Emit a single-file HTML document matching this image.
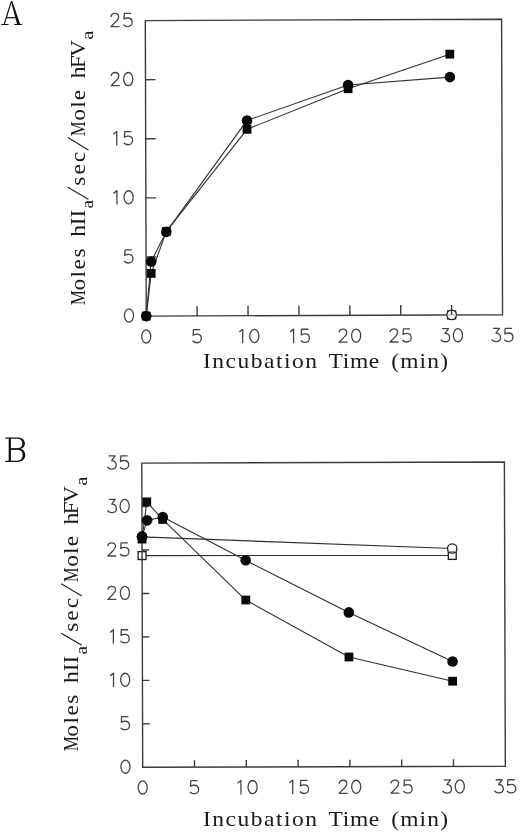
<!DOCTYPE html>
<html><head><meta charset="utf-8"><style>
html,body{margin:0;padding:0;background:#fff;width:520px;height:833px;overflow:hidden}
svg{display:block;will-change:transform}
.dg{fill:none;stroke:#454545;stroke-width:1.25;stroke-linecap:butt;stroke-linejoin:round}
.ax,.ax text{font-family:"Liberation Serif",serif;font-size:21.75px;fill:#1a1a1a}
.ax .sub{font-size:17px}
.sl{stroke:#222;stroke-width:1.15}
.pl{font-family:"Liberation Serif",serif;font-size:38px;fill:#111;stroke:#fff;stroke-width:0.7px}
</style></head><body>
<svg width="520" height="833" viewBox="0 0 520 833">
<g fill="#111">
<polygon points="10.5,1.9 11.7,1.9 4.9,24.3 3.6,24.3"/>
<polygon points="10.8,1.0 12.3,1.0 20.2,24.3 17.1,24.3"/>
<rect x="6.4" y="17.1" width="9.2" height="1.2"/>
<path d="M1.1,24.9 L1.6,24.0 H8.3 L8.8,24.9 Z"/>
<path d="M14.0,24.9 L14.5,24.0 H21.8 L22.4,24.9 Z"/>
</g>
<g fill="#111" fill-rule="evenodd">
<rect x="8.7" y="437.6" width="2.1" height="24.3"/>
<path d="M5.2,437.6 H9 V438.8 H5.6 Z"/>
<path d="M5.2,461.9 H9 V460.7 H5.6 Z"/>
<path d="M9.5,437.6 H17 C22.5,437.6 24.9,440.3 24.9,443.5 C24.9,446.9 22.2,449.5 17,449.5 H9.5 Z M10.7,438.8 H16.8 C20.7,438.8 22.3,440.9 22.3,443.5 C22.3,446.2 20.4,448.3 16.8,448.3 H10.7 Z"/>
<path d="M9.5,448.5 H17.5 C22.8,448.5 25.3,451.3 25.3,455.1 C25.3,459 22.5,461.9 17.5,461.9 H9.5 Z M10.7,449.7 H17.2 C21,449.7 22.6,452 22.6,455.1 C22.6,458.4 20.8,460.7 17.2,460.7 H10.7 Z"/>
</g>
<g class="dg" transform="translate(141.00 329.10) scale(1 1.060)"><g transform="translate(0.00 0) scale(1.030 1)"><ellipse cx="5.1" cy="6.9" rx="4.42" ry="6.2"/></g></g>
<g class="dg" transform="translate(191.90 328.90) scale(1 1.060)"><g transform="translate(0.00 0) scale(1.030 1)"><path d="M8.1,0.7 L1.5,0.7 L1.2,6.0 C2.2,5.3 3.5,5.0 4.9,5.0 C7.4,5.0 9.1,6.8 9.1,9.1 C9.1,11.4 7.3,13.1 4.9,13.1 C3.0,13.1 1.5,12.3 0.6,11.2"/></g></g>
<g class="dg" transform="translate(236.50 328.70) scale(1 1.060)"><g transform="translate(0.00 0) scale(1.030 1)"><path d="M2.7,3.2 L6.0,0.6 L6.0,13.8"/></g><g transform="translate(12.60 0) scale(1.030 1)"><ellipse cx="5.1" cy="6.9" rx="4.42" ry="6.2"/></g></g>
<g class="dg" transform="translate(287.40 328.50) scale(1 1.060)"><g transform="translate(0.00 0) scale(1.030 1)"><path d="M2.7,3.2 L6.0,0.6 L6.0,13.8"/></g><g transform="translate(12.60 0) scale(1.030 1)"><path d="M8.1,0.7 L1.5,0.7 L1.2,6.0 C2.2,5.3 3.5,5.0 4.9,5.0 C7.4,5.0 9.1,6.8 9.1,9.1 C9.1,11.4 7.3,13.1 4.9,13.1 C3.0,13.1 1.5,12.3 0.6,11.2"/></g></g>
<g class="dg" transform="translate(338.30 328.30) scale(1 1.060)"><g transform="translate(0.00 0) scale(1.030 1)"><path d="M0.8,4.0 C0.8,1.9 2.5,0.7 4.5,0.7 C6.6,0.7 8.2,2.1 8.2,4.0 C8.2,5.4 7.4,6.5 6.4,7.6 L0.8,13.1 L9.0,13.1"/></g><g transform="translate(12.60 0) scale(1.030 1)"><ellipse cx="5.1" cy="6.9" rx="4.42" ry="6.2"/></g></g>
<g class="dg" transform="translate(389.20 328.10) scale(1 1.060)"><g transform="translate(0.00 0) scale(1.030 1)"><path d="M0.8,4.0 C0.8,1.9 2.5,0.7 4.5,0.7 C6.6,0.7 8.2,2.1 8.2,4.0 C8.2,5.4 7.4,6.5 6.4,7.6 L0.8,13.1 L9.0,13.1"/></g><g transform="translate(12.60 0) scale(1.030 1)"><path d="M8.1,0.7 L1.5,0.7 L1.2,6.0 C2.2,5.3 3.5,5.0 4.9,5.0 C7.4,5.0 9.1,6.8 9.1,9.1 C9.1,11.4 7.3,13.1 4.9,13.1 C3.0,13.1 1.5,12.3 0.6,11.2"/></g></g>
<g class="dg" transform="translate(440.10 327.90) scale(1 1.060)"><g transform="translate(0.00 0) scale(1.030 1)"><path d="M1.9,0.7 L8.2,0.7 L4.8,5.2 C7.6,5.1 9.3,6.9 9.3,9.2 C9.3,11.5 7.5,13.1 5.0,13.1 C3.0,13.1 1.5,12.3 0.6,11.0"/></g><g transform="translate(12.60 0) scale(1.030 1)"><ellipse cx="5.1" cy="6.9" rx="4.42" ry="6.2"/></g></g>
<g class="dg" transform="translate(491.00 327.70) scale(1 1.060)"><g transform="translate(0.00 0) scale(1.030 1)"><path d="M1.9,0.7 L8.2,0.7 L4.8,5.2 C7.6,5.1 9.3,6.9 9.3,9.2 C9.3,11.5 7.5,13.1 5.0,13.1 C3.0,13.1 1.5,12.3 0.6,11.0"/></g><g transform="translate(12.60 0) scale(1.030 1)"><path d="M8.1,0.7 L1.5,0.7 L1.2,6.0 C2.2,5.3 3.5,5.0 4.9,5.0 C7.4,5.0 9.1,6.8 9.1,9.1 C9.1,11.4 7.3,13.1 4.9,13.1 C3.0,13.1 1.5,12.3 0.6,11.2"/></g></g>
<g class="dg" transform="translate(123.74 308.19) scale(1 1.060)"><g transform="translate(0.00 0) scale(1.030 1)"><ellipse cx="5.1" cy="6.9" rx="4.42" ry="6.2"/></g></g>
<g class="dg" transform="translate(123.55 249.09) scale(1 1.060)"><g transform="translate(0.00 0) scale(1.030 1)"><path d="M8.1,0.7 L1.5,0.7 L1.2,6.0 C2.2,5.3 3.5,5.0 4.9,5.0 C7.4,5.0 9.1,6.8 9.1,9.1 C9.1,11.4 7.3,13.1 4.9,13.1 C3.0,13.1 1.5,12.3 0.6,11.2"/></g></g>
<g class="dg" transform="translate(110.76 189.99) scale(1 1.060)"><g transform="translate(0.00 0) scale(1.030 1)"><path d="M2.7,3.2 L6.0,0.6 L6.0,13.8"/></g><g transform="translate(12.60 0) scale(1.030 1)"><ellipse cx="5.1" cy="6.9" rx="4.42" ry="6.2"/></g></g>
<g class="dg" transform="translate(110.57 130.89) scale(1 1.060)"><g transform="translate(0.00 0) scale(1.030 1)"><path d="M2.7,3.2 L6.0,0.6 L6.0,13.8"/></g><g transform="translate(12.60 0) scale(1.030 1)"><path d="M8.1,0.7 L1.5,0.7 L1.2,6.0 C2.2,5.3 3.5,5.0 4.9,5.0 C7.4,5.0 9.1,6.8 9.1,9.1 C9.1,11.4 7.3,13.1 4.9,13.1 C3.0,13.1 1.5,12.3 0.6,11.2"/></g></g>
<g class="dg" transform="translate(110.38 71.79) scale(1 1.060)"><g transform="translate(0.00 0) scale(1.030 1)"><path d="M0.8,4.0 C0.8,1.9 2.5,0.7 4.5,0.7 C6.6,0.7 8.2,2.1 8.2,4.0 C8.2,5.4 7.4,6.5 6.4,7.6 L0.8,13.1 L9.0,13.1"/></g><g transform="translate(12.60 0) scale(1.030 1)"><ellipse cx="5.1" cy="6.9" rx="4.42" ry="6.2"/></g></g>
<g class="dg" transform="translate(110.19 12.69) scale(1 1.060)"><g transform="translate(0.00 0) scale(1.030 1)"><path d="M0.8,4.0 C0.8,1.9 2.5,0.7 4.5,0.7 C6.6,0.7 8.2,2.1 8.2,4.0 C8.2,5.4 7.4,6.5 6.4,7.6 L0.8,13.1 L9.0,13.1"/></g><g transform="translate(12.60 0) scale(1.030 1)"><path d="M8.1,0.7 L1.5,0.7 L1.2,6.0 C2.2,5.3 3.5,5.0 4.9,5.0 C7.4,5.0 9.1,6.8 9.1,9.1 C9.1,11.4 7.3,13.1 4.9,13.1 C3.0,13.1 1.5,12.3 0.6,11.2"/></g></g>
<polygon points="146.25,316.10 502.55,314.70 501.60,19.20 145.30,20.60" fill="none" stroke="#3c3c3c" stroke-width="1.40"/>
<line x1="197.15" y1="315.90" x2="197.12" y2="305.90" stroke="#3c3c3c" stroke-width="1.40"/>
<line x1="248.05" y1="315.70" x2="248.02" y2="305.70" stroke="#3c3c3c" stroke-width="1.40"/>
<line x1="298.95" y1="315.50" x2="298.92" y2="305.50" stroke="#3c3c3c" stroke-width="1.40"/>
<line x1="349.85" y1="315.30" x2="349.82" y2="305.30" stroke="#3c3c3c" stroke-width="1.40"/>
<line x1="400.75" y1="315.10" x2="400.72" y2="305.10" stroke="#3c3c3c" stroke-width="1.40"/>
<line x1="451.65" y1="314.90" x2="451.62" y2="304.90" stroke="#3c3c3c" stroke-width="1.40"/>
<line x1="146.06" y1="257.00" x2="156.06" y2="256.96" stroke="#3c3c3c" stroke-width="1.40"/>
<line x1="145.87" y1="197.90" x2="155.87" y2="197.86" stroke="#3c3c3c" stroke-width="1.40"/>
<line x1="145.68" y1="138.80" x2="155.68" y2="138.76" stroke="#3c3c3c" stroke-width="1.40"/>
<line x1="145.49" y1="79.70" x2="155.49" y2="79.66" stroke="#3c3c3c" stroke-width="1.40"/>
<polyline points="146.25,316.10 151.20,273.41 166.34,231.39 247.04,129.30 348.10,88.71 449.79,54.15" fill="none" stroke="#303030" stroke-width="1.10" stroke-linejoin="round"/>
<polyline points="146.25,316.10 151.16,261.47 166.34,231.86 247.02,120.44 348.09,84.93 449.87,77.09" fill="none" stroke="#303030" stroke-width="1.10" stroke-linejoin="round"/>
<polyline points="451.65,314.90" fill="none" stroke="#303030" stroke-width="1.10" stroke-linejoin="round"/>
<polyline points="451.65,314.90" fill="none" stroke="#303030" stroke-width="1.10" stroke-linejoin="round"/>
<rect x="141.85" y="311.70" width="8.80" height="8.80" fill="#0a0a0a"/>
<rect x="146.80" y="269.01" width="8.80" height="8.80" fill="#0a0a0a"/>
<rect x="161.94" y="226.99" width="8.80" height="8.80" fill="#0a0a0a"/>
<rect x="242.64" y="124.90" width="8.80" height="8.80" fill="#0a0a0a"/>
<rect x="343.70" y="84.31" width="8.80" height="8.80" fill="#0a0a0a"/>
<rect x="445.39" y="49.75" width="8.80" height="8.80" fill="#0a0a0a"/>
<circle cx="146.25" cy="316.10" r="5.30" fill="#0a0a0a"/>
<circle cx="151.16" cy="261.47" r="5.30" fill="#0a0a0a"/>
<circle cx="166.34" cy="231.86" r="5.30" fill="#0a0a0a"/>
<circle cx="247.02" cy="120.44" r="5.30" fill="#0a0a0a"/>
<circle cx="348.09" cy="84.93" r="5.30" fill="#0a0a0a"/>
<circle cx="449.87" cy="77.09" r="5.30" fill="#0a0a0a"/>
<rect x="447.70" y="310.95" width="7.90" height="7.90" fill="#fff" stroke="#1a1a1a" stroke-width="1.3"/>
<circle cx="451.65" cy="314.90" r="4.70" fill="#fff" stroke="#1a1a1a" stroke-width="1.3"/>
<line x1="446.9" y1="314.95" x2="456.4" y2="314.95" stroke="#bbb" stroke-width="1"/><line x1="451.6" y1="309.6" x2="451.6" y2="314.9" stroke="#3c3c3c" stroke-width="1.4"/>
<g class="ax">
<text transform="translate(84.90 304.80) rotate(-90) translate(-0.474 0) scale(0.7901 1)" style="letter-spacing:0.000px">M</text>
<text transform="translate(84.90 289.70) rotate(-90) translate(-0.864 0) scale(1.0800 1)" style="letter-spacing:1.336px">oles</text>
<text transform="translate(84.90 236.60) rotate(-90) translate(-0.216 0) scale(1.0800 1)" style="letter-spacing:-0.117px">hII</text>
<text transform="translate(93.40 207.80) rotate(-90) translate(-0.681 0) scale(1.1343 1)" class="sub" style="letter-spacing:0.000px">a</text>
<text transform="translate(84.90 184.70) rotate(-90) translate(-0.972 0) scale(1.0800 1)" style="letter-spacing:1.807px">sec</text>
<text transform="translate(84.90 135.70) rotate(-90) translate(-0.464 0) scale(0.7735 1)" style="letter-spacing:0.000px">M</text>
<text transform="translate(84.90 119.80) rotate(-90) translate(-0.864 0) scale(1.0800 1)" style="letter-spacing:1.019px">ole</text>
<text transform="translate(84.90 78.10) rotate(-90) translate(-0.216 0) scale(1.0800 1)" style="letter-spacing:-1.600px">hFV</text>
<text transform="translate(93.40 38.90) rotate(-90) translate(-0.725 0) scale(1.2090 1)" class="sub" style="letter-spacing:0.000px">a</text>
<line x1="88.40" y1="199.20" x2="67.80" y2="187.20" class="sl"/>
<line x1="88.40" y1="150.00" x2="67.80" y2="137.60" class="sl"/>
<text transform="translate(202.936 367.70) scale(1.0800 1)" style="letter-spacing:1.414px">Incubation</text>
<text transform="translate(328.468 367.70) scale(1.0800 1)" style="letter-spacing:0.642px">Time</text>
<text transform="translate(391.220 367.70) scale(1.0800 1)" style="letter-spacing:1.062px">(min)</text>
</g>
<g class="dg" transform="translate(137.45 780.10) scale(1 1.060)"><g transform="translate(0.00 0) scale(1.030 1)"><ellipse cx="5.1" cy="6.9" rx="4.42" ry="6.2"/></g></g>
<g class="dg" transform="translate(189.25 779.94) scale(1 1.060)"><g transform="translate(0.00 0) scale(1.030 1)"><path d="M8.1,0.7 L1.5,0.7 L1.2,6.0 C2.2,5.3 3.5,5.0 4.9,5.0 C7.4,5.0 9.1,6.8 9.1,9.1 C9.1,11.4 7.3,13.1 4.9,13.1 C3.0,13.1 1.5,12.3 0.6,11.2"/></g></g>
<g class="dg" transform="translate(234.75 779.79) scale(1 1.060)"><g transform="translate(0.00 0) scale(1.030 1)"><path d="M2.7,3.2 L6.0,0.6 L6.0,13.8"/></g><g transform="translate(12.60 0) scale(1.030 1)"><ellipse cx="5.1" cy="6.9" rx="4.42" ry="6.2"/></g></g>
<g class="dg" transform="translate(286.55 779.63) scale(1 1.060)"><g transform="translate(0.00 0) scale(1.030 1)"><path d="M2.7,3.2 L6.0,0.6 L6.0,13.8"/></g><g transform="translate(12.60 0) scale(1.030 1)"><path d="M8.1,0.7 L1.5,0.7 L1.2,6.0 C2.2,5.3 3.5,5.0 4.9,5.0 C7.4,5.0 9.1,6.8 9.1,9.1 C9.1,11.4 7.3,13.1 4.9,13.1 C3.0,13.1 1.5,12.3 0.6,11.2"/></g></g>
<g class="dg" transform="translate(338.35 779.48) scale(1 1.060)"><g transform="translate(0.00 0) scale(1.030 1)"><path d="M0.8,4.0 C0.8,1.9 2.5,0.7 4.5,0.7 C6.6,0.7 8.2,2.1 8.2,4.0 C8.2,5.4 7.4,6.5 6.4,7.6 L0.8,13.1 L9.0,13.1"/></g><g transform="translate(12.60 0) scale(1.030 1)"><ellipse cx="5.1" cy="6.9" rx="4.42" ry="6.2"/></g></g>
<g class="dg" transform="translate(390.15 779.32) scale(1 1.060)"><g transform="translate(0.00 0) scale(1.030 1)"><path d="M0.8,4.0 C0.8,1.9 2.5,0.7 4.5,0.7 C6.6,0.7 8.2,2.1 8.2,4.0 C8.2,5.4 7.4,6.5 6.4,7.6 L0.8,13.1 L9.0,13.1"/></g><g transform="translate(12.60 0) scale(1.030 1)"><path d="M8.1,0.7 L1.5,0.7 L1.2,6.0 C2.2,5.3 3.5,5.0 4.9,5.0 C7.4,5.0 9.1,6.8 9.1,9.1 C9.1,11.4 7.3,13.1 4.9,13.1 C3.0,13.1 1.5,12.3 0.6,11.2"/></g></g>
<g class="dg" transform="translate(441.95 779.17) scale(1 1.060)"><g transform="translate(0.00 0) scale(1.030 1)"><path d="M1.9,0.7 L8.2,0.7 L4.8,5.2 C7.6,5.1 9.3,6.9 9.3,9.2 C9.3,11.5 7.5,13.1 5.0,13.1 C3.0,13.1 1.5,12.3 0.6,11.0"/></g><g transform="translate(12.60 0) scale(1.030 1)"><ellipse cx="5.1" cy="6.9" rx="4.42" ry="6.2"/></g></g>
<g class="dg" transform="translate(493.75 779.01) scale(1 1.060)"><g transform="translate(0.00 0) scale(1.030 1)"><path d="M1.9,0.7 L8.2,0.7 L4.8,5.2 C7.6,5.1 9.3,6.9 9.3,9.2 C9.3,11.5 7.5,13.1 5.0,13.1 C3.0,13.1 1.5,12.3 0.6,11.0"/></g><g transform="translate(12.60 0) scale(1.030 1)"><path d="M8.1,0.7 L1.5,0.7 L1.2,6.0 C2.2,5.3 3.5,5.0 4.9,5.0 C7.4,5.0 9.1,6.8 9.1,9.1 C9.1,11.4 7.3,13.1 4.9,13.1 C3.0,13.1 1.5,12.3 0.6,11.2"/></g></g>
<g class="dg" transform="translate(120.19 759.39) scale(1 1.060)"><g transform="translate(0.00 0) scale(1.030 1)"><ellipse cx="5.1" cy="6.9" rx="4.42" ry="6.2"/></g></g>
<g class="dg" transform="translate(120.06 715.93) scale(1 1.060)"><g transform="translate(0.00 0) scale(1.030 1)"><path d="M8.1,0.7 L1.5,0.7 L1.2,6.0 C2.2,5.3 3.5,5.0 4.9,5.0 C7.4,5.0 9.1,6.8 9.1,9.1 C9.1,11.4 7.3,13.1 4.9,13.1 C3.0,13.1 1.5,12.3 0.6,11.2"/></g></g>
<g class="dg" transform="translate(107.33 672.48) scale(1 1.060)"><g transform="translate(0.00 0) scale(1.030 1)"><path d="M2.7,3.2 L6.0,0.6 L6.0,13.8"/></g><g transform="translate(12.60 0) scale(1.030 1)"><ellipse cx="5.1" cy="6.9" rx="4.42" ry="6.2"/></g></g>
<g class="dg" transform="translate(107.20 629.02) scale(1 1.060)"><g transform="translate(0.00 0) scale(1.030 1)"><path d="M2.7,3.2 L6.0,0.6 L6.0,13.8"/></g><g transform="translate(12.60 0) scale(1.030 1)"><path d="M8.1,0.7 L1.5,0.7 L1.2,6.0 C2.2,5.3 3.5,5.0 4.9,5.0 C7.4,5.0 9.1,6.8 9.1,9.1 C9.1,11.4 7.3,13.1 4.9,13.1 C3.0,13.1 1.5,12.3 0.6,11.2"/></g></g>
<g class="dg" transform="translate(107.07 585.57) scale(1 1.060)"><g transform="translate(0.00 0) scale(1.030 1)"><path d="M0.8,4.0 C0.8,1.9 2.5,0.7 4.5,0.7 C6.6,0.7 8.2,2.1 8.2,4.0 C8.2,5.4 7.4,6.5 6.4,7.6 L0.8,13.1 L9.0,13.1"/></g><g transform="translate(12.60 0) scale(1.030 1)"><ellipse cx="5.1" cy="6.9" rx="4.42" ry="6.2"/></g></g>
<g class="dg" transform="translate(106.94 542.11) scale(1 1.060)"><g transform="translate(0.00 0) scale(1.030 1)"><path d="M0.8,4.0 C0.8,1.9 2.5,0.7 4.5,0.7 C6.6,0.7 8.2,2.1 8.2,4.0 C8.2,5.4 7.4,6.5 6.4,7.6 L0.8,13.1 L9.0,13.1"/></g><g transform="translate(12.60 0) scale(1.030 1)"><path d="M8.1,0.7 L1.5,0.7 L1.2,6.0 C2.2,5.3 3.5,5.0 4.9,5.0 C7.4,5.0 9.1,6.8 9.1,9.1 C9.1,11.4 7.3,13.1 4.9,13.1 C3.0,13.1 1.5,12.3 0.6,11.2"/></g></g>
<g class="dg" transform="translate(106.81 498.66) scale(1 1.060)"><g transform="translate(0.00 0) scale(1.030 1)"><path d="M1.9,0.7 L8.2,0.7 L4.8,5.2 C7.6,5.1 9.3,6.9 9.3,9.2 C9.3,11.5 7.5,13.1 5.0,13.1 C3.0,13.1 1.5,12.3 0.6,11.0"/></g><g transform="translate(12.60 0) scale(1.030 1)"><ellipse cx="5.1" cy="6.9" rx="4.42" ry="6.2"/></g></g>
<g class="dg" transform="translate(106.68 455.20) scale(1 1.060)"><g transform="translate(0.00 0) scale(1.030 1)"><path d="M1.9,0.7 L8.2,0.7 L4.8,5.2 C7.6,5.1 9.3,6.9 9.3,9.2 C9.3,11.5 7.5,13.1 5.0,13.1 C3.0,13.1 1.5,12.3 0.6,11.0"/></g><g transform="translate(12.60 0) scale(1.030 1)"><path d="M8.1,0.7 L1.5,0.7 L1.2,6.0 C2.2,5.3 3.5,5.0 4.9,5.0 C7.4,5.0 9.1,6.8 9.1,9.1 C9.1,11.4 7.3,13.1 4.9,13.1 C3.0,13.1 1.5,12.3 0.6,11.2"/></g></g>
<polygon points="142.70,767.30 505.30,766.21 504.39,462.03 141.79,463.11" fill="none" stroke="#3c3c3c" stroke-width="1.40"/>
<line x1="194.50" y1="767.14" x2="194.48" y2="760.14" stroke="#3c3c3c" stroke-width="1.40"/>
<line x1="246.30" y1="766.99" x2="246.28" y2="759.99" stroke="#3c3c3c" stroke-width="1.40"/>
<line x1="298.10" y1="766.83" x2="298.08" y2="759.83" stroke="#3c3c3c" stroke-width="1.40"/>
<line x1="349.90" y1="766.68" x2="349.88" y2="759.68" stroke="#3c3c3c" stroke-width="1.40"/>
<line x1="401.70" y1="766.52" x2="401.68" y2="759.52" stroke="#3c3c3c" stroke-width="1.40"/>
<line x1="453.50" y1="766.37" x2="453.48" y2="759.37" stroke="#3c3c3c" stroke-width="1.40"/>
<line x1="142.57" y1="723.84" x2="149.57" y2="723.82" stroke="#3c3c3c" stroke-width="1.40"/>
<line x1="142.44" y1="680.39" x2="149.44" y2="680.37" stroke="#3c3c3c" stroke-width="1.40"/>
<line x1="142.31" y1="636.93" x2="149.31" y2="636.91" stroke="#3c3c3c" stroke-width="1.40"/>
<line x1="142.18" y1="593.48" x2="149.18" y2="593.46" stroke="#3c3c3c" stroke-width="1.40"/>
<line x1="142.05" y1="550.02" x2="149.05" y2="550.00" stroke="#3c3c3c" stroke-width="1.40"/>
<line x1="141.92" y1="506.57" x2="148.92" y2="506.55" stroke="#3c3c3c" stroke-width="1.40"/>
<polyline points="142.07,555.59 452.25,555.44" fill="none" stroke="#303030" stroke-width="1.10" stroke-linejoin="round"/>
<polyline points="142.01,536.90 452.23,548.49" fill="none" stroke="#303030" stroke-width="1.10" stroke-linejoin="round"/>
<polyline points="142.02,539.07 146.78,501.86 162.68,519.46 245.80,600.04 348.95,657.00 452.62,681.20" fill="none" stroke="#303030" stroke-width="1.10" stroke-linejoin="round"/>
<polyline points="142.01,536.38 147.14,520.37 162.77,516.94 245.68,560.32 348.82,612.42 452.56,661.47" fill="none" stroke="#303030" stroke-width="1.10" stroke-linejoin="round"/>
<rect x="138.12" y="551.64" width="7.90" height="7.90" fill="#fff" stroke="#1a1a1a" stroke-width="1.3"/>
<rect x="448.30" y="551.49" width="7.90" height="7.90" fill="#fff" stroke="#1a1a1a" stroke-width="1.3"/>
<circle cx="142.01" cy="536.90" r="4.70" fill="#fff" stroke="#1a1a1a" stroke-width="1.3"/>
<circle cx="452.23" cy="548.49" r="4.70" fill="#fff" stroke="#1a1a1a" stroke-width="1.3"/>
<rect x="137.62" y="534.67" width="8.80" height="8.80" fill="#0a0a0a"/>
<rect x="142.38" y="497.46" width="8.80" height="8.80" fill="#0a0a0a"/>
<rect x="158.28" y="515.06" width="8.80" height="8.80" fill="#0a0a0a"/>
<rect x="241.40" y="595.64" width="8.80" height="8.80" fill="#0a0a0a"/>
<rect x="344.55" y="652.60" width="8.80" height="8.80" fill="#0a0a0a"/>
<rect x="448.22" y="676.80" width="8.80" height="8.80" fill="#0a0a0a"/>
<circle cx="142.01" cy="536.38" r="5.30" fill="#0a0a0a"/>
<circle cx="147.14" cy="520.37" r="5.30" fill="#0a0a0a"/>
<circle cx="162.77" cy="516.94" r="5.30" fill="#0a0a0a"/>
<circle cx="245.68" cy="560.32" r="5.30" fill="#0a0a0a"/>
<circle cx="348.82" cy="612.42" r="5.30" fill="#0a0a0a"/>
<circle cx="452.56" cy="661.47" r="5.30" fill="#0a0a0a"/>
<line x1="142.07" y1="550.6" x2="142.07" y2="560.6" stroke="#3c3c3c" stroke-width="1.4"/><line x1="448.4" y1="551.5" x2="456.1" y2="551.5" stroke="#999" stroke-width="1.1"/>
<g class="ax">
<text transform="translate(78.30 750.90) rotate(-90) translate(-0.474 0) scale(0.7901 1)" style="letter-spacing:0.000px">M</text>
<text transform="translate(78.30 735.80) rotate(-90) translate(-0.864 0) scale(1.0800 1)" style="letter-spacing:1.336px">oles</text>
<text transform="translate(78.30 682.70) rotate(-90) translate(-0.216 0) scale(1.0800 1)" style="letter-spacing:-0.117px">hII</text>
<text transform="translate(86.80 653.90) rotate(-90) translate(-0.681 0) scale(1.1343 1)" class="sub" style="letter-spacing:0.000px">a</text>
<text transform="translate(78.30 630.80) rotate(-90) translate(-0.972 0) scale(1.0800 1)" style="letter-spacing:1.807px">sec</text>
<text transform="translate(78.30 581.80) rotate(-90) translate(-0.464 0) scale(0.7735 1)" style="letter-spacing:0.000px">M</text>
<text transform="translate(78.30 565.90) rotate(-90) translate(-0.864 0) scale(1.0800 1)" style="letter-spacing:1.019px">ole</text>
<text transform="translate(78.30 524.20) rotate(-90) translate(-0.216 0) scale(1.0800 1)" style="letter-spacing:-1.600px">hFV</text>
<text transform="translate(86.80 485.00) rotate(-90) translate(-0.725 0) scale(1.2090 1)" class="sub" style="letter-spacing:0.000px">a</text>
<line x1="81.80" y1="645.30" x2="61.20" y2="633.30" class="sl"/>
<line x1="81.80" y1="596.10" x2="61.20" y2="583.70" class="sl"/>
<text transform="translate(202.936 825.80) scale(1.0800 1)" style="letter-spacing:1.414px">Incubation</text>
<text transform="translate(328.468 825.80) scale(1.0800 1)" style="letter-spacing:0.642px">Time</text>
<text transform="translate(391.220 825.80) scale(1.0800 1)" style="letter-spacing:1.062px">(min)</text>
</g>
</svg>
</body></html>
